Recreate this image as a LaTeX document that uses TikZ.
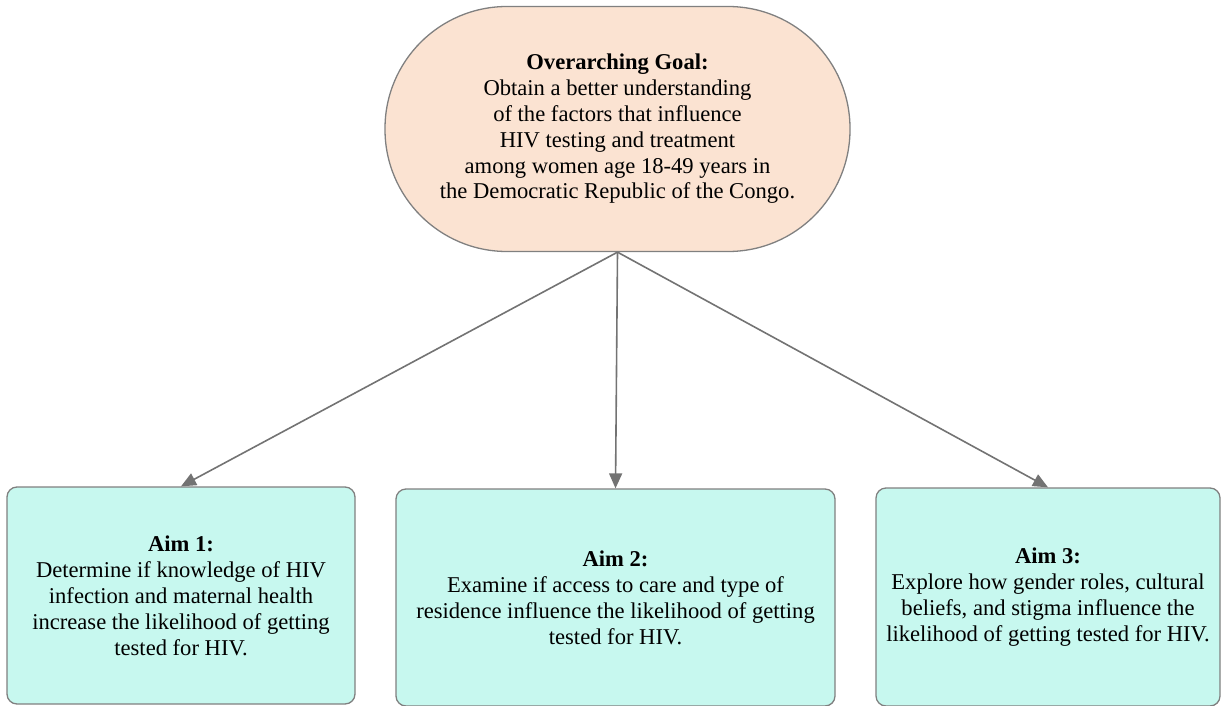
\documentclass[tikz,border=0pt]{standalone}
\usepackage{fontspec}
\setmainfont{Liberation Serif}
\usetikzlibrary{arrows.meta}
\definecolor{goalfill}{HTML}{FBE3D2}
\definecolor{aimfill}{HTML}{C7F8EF}
\definecolor{edgegray}{HTML}{808080}
\begin{document}
\begin{tikzpicture}[x=1pt,y=-1pt,
    goalbox/.style={draw=edgegray, line width=1.3pt, fill=goalfill, align=center,
        minimum width=465pt, minimum height=245pt, rounded corners=122pt, inner sep=0pt,
        font=\fontsize{22.6}{25.8}\selectfont},
    aimbox/.style={draw=edgegray, line width=1.3pt, fill=aimfill, align=center,
        rounded corners=10pt, inner sep=0pt, font=\fontsize{22.6}{26}\selectfont},
    link/.style={draw=edgegray!90!black, line width=1.6pt, -{Triangle[length=15pt,width=13pt]}}]
    \useasboundingbox (0,0) rectangle (1225,706);

    % Obiettivo generale in alto
    \node[goalbox] (goal) at (617.5,129) {\textbf{Overarching Goal:}\\
        Obtain a better understanding\\ of the factors that influence\\
        HIV testing and treatment\\ among women age 18-49 years in\\
        the Democratic Republic of the Congo.};

    % Le tre aree
    \node[aimbox, minimum width=348pt, minimum height=217pt] (aimA) at (181,595.5)
        {\textbf{Aim 1:}\\ Determine if knowledge of HIV\\ infection and maternal health\\
        increase the likelihood of getting\\ tested for HIV.};
    \node[aimbox, minimum width=439pt, minimum height=217pt] (aimB) at (615.5,597.5)
        {\textbf{Aim 2:}\\ Examine if access to care and type of\\
        residence influence the likelihood of getting\\ tested for HIV.};
    \node[aimbox, minimum width=344pt, minimum height=218pt] (aimC) at (1048,597)
        {\textbf{Aim 3:}\\ Explore how gender roles, cultural\\ beliefs, and stigma influence the\\
        likelihood of getting tested for HIV.};

    % Frecce
    \draw[link] (goal.south) -- (aimA.north);
    \draw[link] (goal.south) -- (aimB.north);
    \draw[link] (goal.south) -- (aimC.north);
\end{tikzpicture}
\end{document}
